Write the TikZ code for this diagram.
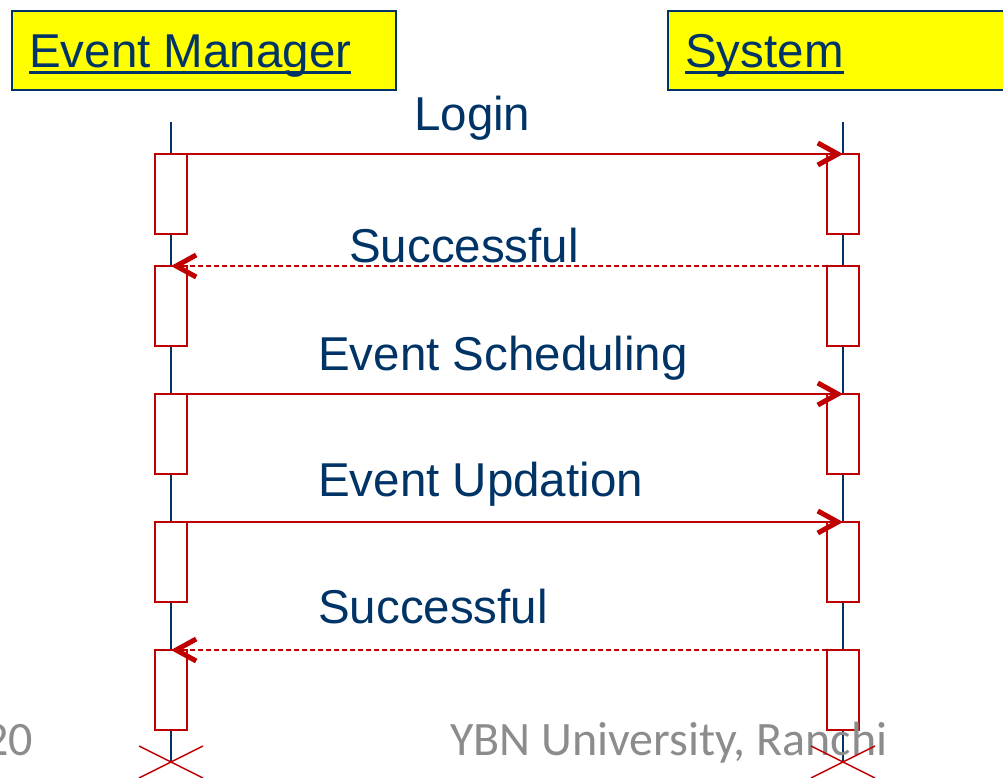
\documentclass[tikz,border=0pt]{standalone}
\usepackage{fontspec}
\setmainfont{Liberation Sans}
\newfontfamily\footfont{Carlito}
\usetikzlibrary{positioning,arrows.meta}
\definecolor{navy}{HTML}{003366}
\definecolor{umlred}{HTML}{C00000}
\definecolor{titleyellow}{HTML}{FFFF00}
\definecolor{footgray}{HTML}{8C8C8C}
\newcommand{\linktext}[1]{\setbox0\hbox{#1}\rlap{\rule[-6.5pt]{\wd0}{3pt}}\box0}
\tikzstyle{actor} = [draw=navy, fill=titleyellow, line width=2pt, rectangle, anchor=north west, minimum width=384pt, minimum height=79pt, inner sep=0pt]
\tikzstyle{activation} = [draw=umlred, fill=white, line width=2pt, rectangle, minimum height=80pt, minimum width=32pt, inner sep=0pt, outer sep=0pt]
\tikzstyle{lifeline} = [draw=navy, line width=1.5pt]
\tikzstyle{call} = [draw=umlred, line width=1.8pt, -{Straight Barb[length=20pt, width=22pt, line width=5pt]}]
\tikzstyle{reply} = [call, line width=1.5pt, dash pattern=on 5pt off 3pt]
\tikzstyle{msg} = [text=navy, font=\fontsize{47.5}{56}\selectfont, anchor=base west, inner sep=0pt]
\tikzstyle{footer} = [text=footgray, font=\footfont\fontsize{48}{56}\selectfont, inner sep=0pt]
\tikzstyle{cross} = [draw=umlred, line width=1.5pt]

\begin{document}
\begin{tikzpicture}[x=1pt, y=-1pt]
	\useasboundingbox (0,0) rectangle (1003,777);

	% objects
	\node [actor] (manager) at (11,10) {};
	\node [actor] (system) at (667,10) {};
	\node [msg] (managername) at (29,67) {\linktext{Event Manager}};
	\node [msg] (systemname) at (685,67) {\linktext{System}};

	% lifelines
	\coordinate (emtop) at (171,122);
	\coordinate (emend) at (171,762);
	\coordinate (systop) at (843,122);
	\coordinate (sysend) at (843,762);
	\draw [lifeline] (emtop) -- (emend);
	\draw [lifeline] (systop) -- (sysend);

	% activations
	\node [activation, below=32pt of emtop] (em1) {};
	\node [activation, below=32pt of em1] (em2) {};
	\node [activation, below=48pt of em2] (em3) {};
	\node [activation, below=48pt of em3] (em4) {};
	\node [activation, below=48pt of em4] (em5) {};
	\node [activation, below=32pt of systop] (sys1) {};
	\node [activation, below=32pt of sys1] (sys2) {};
	\node [activation, below=48pt of sys2] (sys3) {};
	\node [activation, below=48pt of sys3] (sys4) {};
	\node [activation, below=48pt of sys4] (sys5) {};

	% messages
	\draw [call] (em1.north east) -- (sys1.north);
	\draw [reply] (sys2.north west) -- (em2.north);
	\draw [call] (em3.north east) -- (sys3.north);
	\draw [call] (em4.north east) -- (sys4.north);
	\draw [reply] (sys5.north west) -- (em5.north);

	\node [msg] (login) at (414,130) {Login};
	\node [msg] (ok1) at (349,262) {Successful};
	\node [msg] (schedule) at (318,370) {Event Scheduling};
	\node [msg] (update) at (318,496) {Event Updation};
	\node [msg] (ok2) at (318,623) {Successful};

	% footer
	\node [footer, anchor=base east] (page) at (33,755) {20};
	\node [footer, anchor=base west] (univ) at (450,755) {YBN University, Ranchi};

	% destruction
	\draw [cross] ([shift={(-32,-16)}]emend) -- ([shift={(32,16)}]emend);
	\draw [cross] ([shift={(-32,16)}]emend) -- ([shift={(32,-16)}]emend);
	\draw [cross] ([shift={(-32,-16)}]sysend) -- ([shift={(32,16)}]sysend);
	\draw [cross] ([shift={(-32,16)}]sysend) -- ([shift={(32,-16)}]sysend);
\end{tikzpicture}
\end{document}
